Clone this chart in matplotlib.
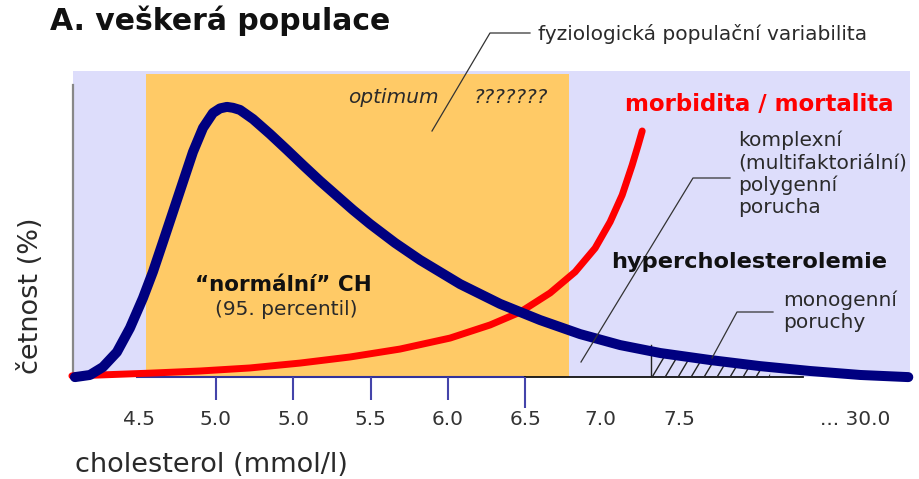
import numpy as np
import matplotlib
matplotlib.use("Agg")
import matplotlib.pyplot as plt
from matplotlib.patches import Rectangle
from matplotlib.collections import LineCollection

# x positions are slots along the (non-linear) cholesterol axis, y is frequency in %
blue_x = [-0.825, -0.631, -0.463, -0.282, -0.113, 0.055, 0.184, 0.314, 0.443,
          0.573, 0.702, 0.832, 0.961, 1.052, 1.142, 1.220, 1.311, 1.479, 1.699,
          1.919, 2.126, 2.346, 2.566, 2.773, 2.994, 3.317, 3.641, 4.159, 4.677,
          5.194, 5.712, 6.230, 6.748, 7.395, 8.042, 8.689, 9.337, 9.958]
blue_y = [-0.2, 0.5, 3.1, 8.0, 15.9, 25.7, 34.3, 44.1, 53.9,
          63.8, 73.6, 81.5, 86.4, 87.9, 88.4, 88.1, 87.4, 84.4, 79.5,
          74.3, 69.3, 64.1, 59.2, 54.6, 50.0, 43.8, 38.2, 30.3, 23.8,
          18.5, 13.9, 10.3, 7.7, 5.4, 3.4, 1.8, 0.5, -0.2]

red_x = [-0.864, -0.502, 0.146, 0.793, 1.440, 2.087, 2.735, 3.382, 4.029,
         4.547, 4.935, 5.324, 5.647, 5.906, 6.100, 6.256, 6.385, 6.463, 6.515]
red_y = [0.2, 0.5, 1.1, 1.8, 2.8, 4.4, 6.4, 9.0, 12.6,
         16.9, 21.1, 27.4, 34.3, 42.1, 50.7, 59.5, 69.3, 75.9, 80.5]

tick_pos = [0, 1, 2, 3, 4, 5, 5.98, 7.0, 9.27]
tick_labels = ["4.5", "5.0", "5.0", "5.5", "6.0", "6.5", "7.0", "7.5", "... 30.0"]
marked_ticks = [1, 2, 3, 4, 5]

normal_range = [0.09, 5.57]      # "normální" CH band
mono_range = [6.63, 8.17]        # hatched monogenic tail

NAVY = '#000080'
RED = '#FF0000'
ORANGE = '#FFCA66'
LAVENDER = '#DDDDFB'
INK = '#2a2a2a'

W, H = 920, 479
fig = plt.figure(figsize=(W / 100, H / 100), dpi=100)

L, R, B, T = 73, 910, 376.5, 71.5
ax = fig.add_axes([L / W, (H - B) / H, (R - L) / W, (B - T) / H])
ax.set_xlim(-0.85, 9.98)
ax.set_ylim(0, 100)
ax.set_facecolor(LAVENDER)
for side in ['top', 'right', 'bottom']:
    ax.spines[side].set_visible(False)
ax.spines['left'].set_color('#888888')
ax.spines['left'].set_linewidth(1.6)
ax.spines['left'].set_bounds(0, 95.5)
ax.set_yticks([])

ax.add_patch(Rectangle((normal_range[0], 0), normal_range[1] - normal_range[0], 99.2,
                       facecolor=ORANGE, edgecolor='none', zorder=0.5))

# baseline: blue under the tick marks, black further right
ax.plot([-0.02, 5], [0, 0], color='#33339a', lw=1.5, zorder=1, clip_on=False)
ax.plot([5, 8.6], [0, 0], color='#111111', lw=1.3, zorder=1, clip_on=False)
ax.vlines(marked_ticks, [-7.6] * 4 + [-10.2], 0, color='#4444aa', lw=1.5,
          clip_on=False, zorder=1)

ax.set_xticks(tick_pos, tick_labels)
ax.tick_params(axis='x', length=0, pad=24, labelsize=14.5, labelcolor='#333333')

# hatched area under the tail, clipped to the region below the curve
hx = np.array([mono_range[0]] + [v for v in blue_x if mono_range[0] < v < mono_range[1]]
              + [mono_range[1]])
hy = np.interp(hx, blue_x, blue_y)
area = ax.fill_between(hx, 0, hy, facecolor='none', edgecolor='none', zorder=2)
starts = np.arange(mono_range[0] - 0.15, mono_range[1], 0.168)
hatch = LineCollection([[(x0, 0), (x0 + 0.155, 6.6)] for x0 in starts],
                       colors='#222222', linewidths=1.0, zorder=2)
ax.add_collection(hatch)
hatch.set_clip_path(area.get_paths()[0], ax.transData)
ax.plot([mono_range[0]] * 2, [0, hy[0] + 2], color='#222222', lw=1, zorder=2)

ax.plot(red_x, red_y, color=RED, lw=5, solid_capstyle='round',
        solid_joinstyle='round', clip_on=False, zorder=3)
ax.plot(blue_x, blue_y, color=NAVY, lw=7.2, solid_capstyle='round',
        solid_joinstyle='round', clip_on=False, zorder=4)

# overlay in pixel coordinates for captions and leader lines
ov = fig.add_axes([0, 0, 1, 1], facecolor='none')
ov.set_xlim(0, W)
ov.set_ylim(H, 0)
ov.axis('off')

ov.text(50, 30, "A. veškerá populace", fontsize=21.5, fontweight='bold',
        color='#111111', va='baseline')
ov.text(538, 40, "fyziologická populační variabilita", fontsize=14.5,
        color=INK, va='baseline')
ov.plot([530, 490, 432], [33, 33, 131], color='#333333', lw=0.9)

ov.text(348, 103, "optimum", fontsize=14.5, style='italic', color=INK, va='baseline')
ov.text(474, 103, "???????", fontsize=14.5, style='italic', color=INK, va='baseline')

ov.text(625, 111, "morbidita / mortalita", fontsize=16.5, fontweight='bold',
        color=RED, va='baseline')

ov.text(738, 131, "komplexní\n(multifaktoriální)\npolygenní\nporucha",
        fontsize=14.5, color=INK, va='top', linespacing=1.2)
ov.plot([730, 693, 581], [178, 178, 362], color='#333333', lw=0.9)

ov.text(611, 268, "hypercholesterolemie", fontsize=16.2, fontweight='bold',
        color='#111111', va='baseline')

ov.text(783, 290, "monogenní\nporuchy", fontsize=14.5, color=INK, va='top',
        linespacing=1.2)
ov.plot([773, 737, 712], [312, 312, 358], color='#333333', lw=0.9)

ov.text(283, 291, "“normální” CH", fontsize=15.5, fontweight='bold',
        color='#111111', ha='center', va='baseline')
ov.text(286, 315, "(95. percentil)", fontsize=14.5, color=INK, ha='center',
        va='baseline')

ov.text(75, 472, "cholesterol (mmol/l)", fontsize=19.5, color=INK, va='baseline')
ov.text(31, 296, "četnost (%)", fontsize=19.5, color=INK, rotation=90,
        ha='center', va='center')

fig.savefig('out.png', dpi=100, facecolor='white')
